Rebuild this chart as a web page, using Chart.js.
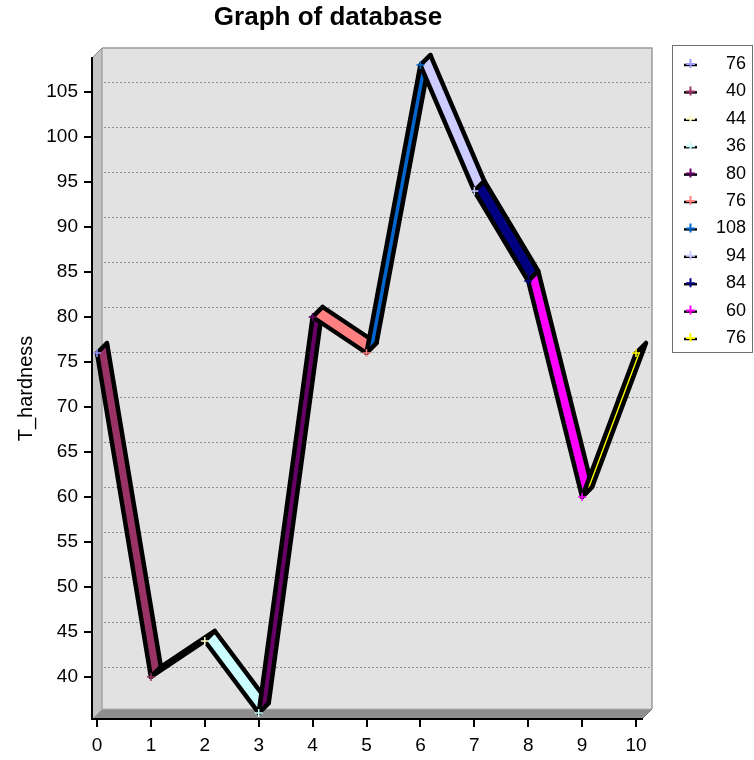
<!DOCTYPE html>
<html><head><meta charset="utf-8">
<script src="https://cdn.jsdelivr.net/npm/chart.js@4/dist/chart.umd.min.js"></script>
<style>html,body{margin:0;padding:0;background:#fff}#wrap{width:754px;height:760px;position:relative}</style>
</head><body><div id="wrap"><canvas id="c"></canvas></div>
<script>
const categories = [0,1,2,3,4,5,6,7,8,9,10];
const hardness = [76,40,44,36,80,76,108,94,84,60,76];
const legendLabels = ['76','40','44','36','80','76','108','94','84','60','76'];
const yTickValues = [40,45,50,55,60,65,70,75,80,85,90,95,100,105];
const pointColors = ['#9999FF','#993366','#FFFFCC','#CCFFFF','#660066','#FF8080','#0066CC','#CCCCFF','#000080','#FF00FF','#FFFF00'];

const FONT = "'Liberation Sans', Arial, sans-serif";
const DEPTH = 10;
const RIB = 10;

const wallPlugin = {
  id: 'walls',
  beforeDraw(chart) {
    const {ctx, chartArea: a, scales} = chart;
    const L = a.left, R = a.right, T = a.top, B = a.bottom, d = DEPTH;
    ctx.save();
    ctx.fillStyle = '#e2e2e2';
    ctx.fillRect(L + d, T - d, R - L, B - T);
    ctx.strokeStyle = '#9a9a9a';
    ctx.lineWidth = 1.5;
    ctx.beginPath();
    ctx.moveTo(L + d, T - d); ctx.lineTo(R + d, T - d); ctx.lineTo(R + d, B - d);
    ctx.stroke();
    ctx.fillStyle = '#c4c4c4';
    ctx.beginPath();
    ctx.moveTo(L, T); ctx.lineTo(L + d, T - d); ctx.lineTo(L + d, B - d); ctx.lineTo(L, B); ctx.closePath();
    ctx.fill();
    ctx.strokeStyle = '#8c8c8c'; ctx.lineWidth = 1;
    ctx.beginPath(); ctx.moveTo(L, T); ctx.lineTo(L + d, T - d); ctx.lineTo(L + d, B - d); ctx.stroke();
    ctx.fillStyle = '#8e8e8e';
    ctx.beginPath();
    ctx.moveTo(L, B); ctx.lineTo(L + d, B - d); ctx.lineTo(R + d, B - d); ctx.lineTo(R, B); ctx.closePath();
    ctx.fill();
    ctx.strokeStyle = '#b0b0b0'; ctx.lineWidth = 1;
    ctx.beginPath(); ctx.moveTo(L + d, B - d); ctx.lineTo(R + d, B - d); ctx.stroke();
    ctx.strokeStyle = '#6e6e6e';
    ctx.beginPath(); ctx.moveTo(R, B); ctx.lineTo(R + d, B - d); ctx.stroke();
    const ys = scales.y;
    ctx.strokeStyle = '#8f8f8f';
    ctx.lineWidth = 1;
    ctx.setLineDash([2, 2]);
    yTickValues.forEach(v => {
      const y = Math.round(ys.getPixelForValue(v) - d) + 0.5;
      ctx.beginPath(); ctx.moveTo(L + d + 2, y); ctx.lineTo(R + d, y); ctx.stroke();
    });
    ctx.restore();
  }
};

const ribbonPlugin = {
  id: 'ribbons',
  beforeDatasetsDraw(chart) {
    const ctx = chart.ctx;
    const pts = chart.getDatasetMeta(0).data;
    ctx.save();
    ctx.lineJoin = 'round';
    for (let i = 1; i < pts.length; i++) {
      const p = pts[i - 1], q = pts[i];
      ctx.beginPath();
      ctx.moveTo(p.x, p.y); ctx.lineTo(q.x, q.y);
      ctx.lineTo(q.x + RIB, q.y - RIB); ctx.lineTo(p.x + RIB, p.y - RIB);
      ctx.closePath();
      ctx.fillStyle = pointColors[i];
      ctx.fill();
      ctx.strokeStyle = '#000';
      ctx.lineWidth = 4.5;
      ctx.stroke();
    }
    ctx.restore();
  }
};

const legendPlugin = {
  id: 'sideLegend',
  afterDraw(chart) {
    const ctx = chart.ctx;
    ctx.save();
    ctx.strokeStyle = '#707070';
    ctx.lineWidth = 1;
    ctx.strokeRect(672.5, 45.5, 80, 307);
    ctx.font = '18px ' + FONT;
    ctx.textAlign = 'right';
    ctx.textBaseline = 'middle';
    legendLabels.forEach((lab, i) => {
      const y = 64 + i * 27.4;
      ctx.strokeStyle = '#000';
      ctx.lineWidth = 2.5;
      ctx.beginPath(); ctx.moveTo(684, y + 1); ctx.lineTo(697, y + 1); ctx.stroke();
      ctx.strokeStyle = pointColors[i];
      ctx.lineWidth = 2;
      ctx.beginPath();
      ctx.moveTo(690.5, y - 5); ctx.lineTo(690.5, y + 4);
      ctx.moveTo(686, y); ctx.lineTo(695, y);
      ctx.stroke();
      ctx.fillStyle = '#000';
      ctx.fillText(lab, 746, y);
    });
    ctx.restore();
  }
};

new Chart(document.getElementById('c'), {
  type: 'line',
  data: {
    datasets: [{
      label: 'T_hardness',
      data: hardness.map((v, i) => ({x: categories[i], y: v})),
      showLine: false,
      pointStyle: 'cross',
      pointRadius: 4,
      pointBorderWidth: 1.5,
      pointBorderColor: pointColors,
      pointBackgroundColor: pointColors
    }]
  },
  options: {
    responsive: true,
    maintainAspectRatio: false,
    animation: false,
    layout: {padding: {left: 14, right: 112, top: 0, bottom: 0}},
    plugins: {
      legend: {display: false},
      tooltip: {enabled: false},
      title: {
        display: true,
        text: 'Graph of database',
        color: '#000',
        font: {family: FONT, size: 26, weight: 'bold'},
        padding: {top: 2, bottom: 24.8}
      }
    },
    scales: {
      x: {
        type: 'linear',
        min: -0.093, max: 10.111,
        afterBuildTicks: s => { s.ticks = categories.map(v => ({value: v})); },
        afterFit: s => { s.height = 41; },
        grid: {drawOnChartArea: false, color: '#000', tickLength: 8, lineWidth: 2},
        border: {color: '#000', width: 2},
        ticks: {color: '#000', font: {family: FONT, size: 19}, padding: 7, maxRotation: 0, autoSkip: false}
      },
      y: {
        type: 'linear',
        min: 35.33, max: 108.78,
        afterBuildTicks: s => { s.ticks = yTickValues.map(v => ({value: v})); },
        afterFit: s => { s.width = 78; },
        grid: {drawOnChartArea: false, color: '#000', tickLength: 8, lineWidth: 2},
        border: {color: '#000', width: 2},
        ticks: {color: '#000', font: {family: FONT, size: 19}, padding: 6, autoSkip: false},
        title: {display: true, text: 'T_hardness', color: '#000', font: {family: FONT, size: 20}, padding: {top: 0, bottom: 0}}
      }
    }
  },
  plugins: [wallPlugin, ribbonPlugin, legendPlugin]
});
</script></body></html>
